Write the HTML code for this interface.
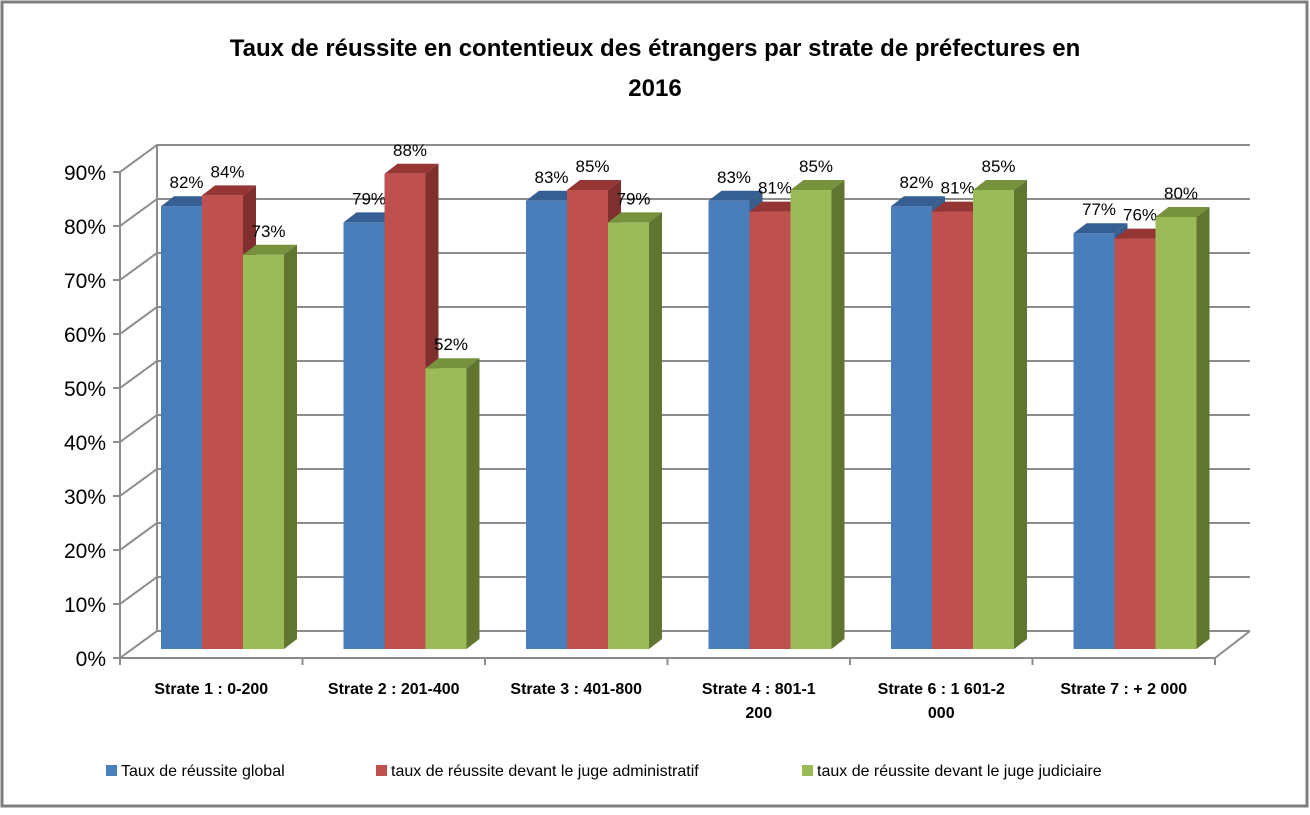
<!DOCTYPE html>
<html><head><meta charset="utf-8"><style>
body{margin:0;background:#fff;}
svg text{font-family:"Liberation Sans",sans-serif;}
</style></head><body>
<svg id="c" width="1310" height="810" xmlns="http://www.w3.org/2000/svg">
<rect x="2" y="2" width="1305" height="804" fill="#fff" stroke="#7f7f7f" stroke-width="3"/>
<text x="655" y="56" text-anchor="middle" font-size="24" font-weight="bold" fill="#000">Taux de réussite en contentieux des étrangers par strate de préfectures en</text>
<text x="655" y="96" text-anchor="middle" font-size="24" font-weight="bold" fill="#000">2016</text>
<g id="grid"></g><g id="bars"></g><g id="axes"></g>
<g>
<rect x="106" y="765" width="11" height="11" fill="#4a7ebb"/>
<text x="121" y="776" font-size="16">Taux de réussite global</text>
<rect x="376" y="765" width="11" height="11" fill="#c0504d"/>
<text x="391" y="776" font-size="16">taux de réussite devant le juge administratif</text>
<rect x="802" y="765" width="11" height="11" fill="#9bbb59"/>
<text x="817" y="776" font-size="16">taux de réussite devant le juge judiciaire</text>
</g>
</svg>
<script>
const categories=[["Strate 1 : 0-200"],["Strate 2 : 201-400"],["Strate 3 : 401-800"],["Strate 4 : 801-1","200"],["Strate 6 : 1 601-2","000"],["Strate 7 : + 2 000"]];
const globalVals=[82,79,83,83,82,77];
const adminVals=[84,88,85,81,81,76];
const judVals=[73,52,79,85,85,80];
const ticks=[0,10,20,30,40,50,60,70,80,90];
const NS="http://www.w3.org/2000/svg";
function mk(t,a,p){const e=document.createElementNS(NS,t);for(const k in a)e.setAttribute(k,a[k]);p.appendChild(e);return e;}
const X0=120,X1=1215,Y0=658,DX=37,DY=-27,PX=5.4;
const cw=(X1-X0)/categories.length;
function y(v){return Y0-v*PX;}
const grid=document.getElementById('grid'),axes=document.getElementById('axes'),bars=document.getElementById('bars');
ticks.forEach(t=>{
 const g=mk('g',{},grid);
 
 
 mk('polyline',{points:`${X0},${y(t)} ${X0+DX},${y(t)+DY} ${X1+DX-2},${y(t)+DY}`,fill:'none',stroke:'#8c8c8c','stroke-width':2},g);
 mk('line',{x1:X0-7,y1:y(t),x2:X0,y2:y(t),stroke:'#8c8c8c','stroke-width':2},axes);
 const tx=mk('text',{x:X0-14,y:y(t)+8,'text-anchor':'end','font-size':21},axes);
 tx.textContent=t+'%';
 
 
});
mk('line',{x1:X0,y1:Y0,x2:X0,y2:y(90),stroke:'#8c8c8c','stroke-width':2},axes);
mk('line',{x1:X0+DX,y1:Y0+DY,x2:X0+DX,y2:y(90)+DY,stroke:'#8c8c8c','stroke-width':2},axes);
mk('line',{x1:X0,y1:Y0,x2:X1,y2:Y0,stroke:'#8c8c8c','stroke-width':2},axes);
mk('line',{x1:X1,y1:Y0,x2:X1+DX-2,y2:Y0+DY,stroke:'#8c8c8c','stroke-width':2},axes);
for(let i=0;i<=categories.length;i++){mk('line',{x1:X0+i*cw,y1:Y0,x2:X0+i*cw,y2:Y0+7,stroke:'#8c8c8c','stroke-width':2},axes);}
categories.forEach((c,i)=>{
 const cx=X0+cw*i+cw/2;
 const t=mk('text',{x:cx,y:Y0+36,'text-anchor':'middle','font-size':16,'font-weight':'bold'},axes);
 
 
 c.forEach((ln,j)=>{const s=mk('tspan',{x:cx,dy:j?24:0},t);s.textContent=ln;});
});
const series=[[globalVals,'#4a7ebb','#355f93','#385d8a','global'],[adminVals,'#c0504d','#963634','#7f2f2d','admin'],[judVals,'#9bbb59','#76923c','#5f7530','judiciaire']];
const BW=41,bd=13,bdy=-10;
categories.forEach((c,i)=>{
 series.forEach((s,k)=>{
  const v=s[0][i],x=X0+cw*i+41+k*BW,yb=Y0-9,yt=yb-v*PX;
  const g=mk('g',{},bars);
  
  
  mk('rect',{x:x,y:yt,width:BW,height:yb-yt,fill:s[1]},g);
  mk('polygon',{points:`${x},${yt} ${x+bd},${yt+bdy} ${x+BW+bd},${yt+bdy} ${x+BW},${yt}`,fill:s[2]},g);
  mk('polygon',{points:`${x+BW},${yt} ${x+BW+bd},${yt+bdy} ${x+BW+bd},${yb+bdy} ${x+BW},${yb}`,fill:s[3]},g);
  const t=mk('text',{x:x+BW/2+5,y:yt-18,'text-anchor':'middle','font-size':17},g);
  t.textContent=v+'%';
  
  
 });
});
</script>
</body></html>
